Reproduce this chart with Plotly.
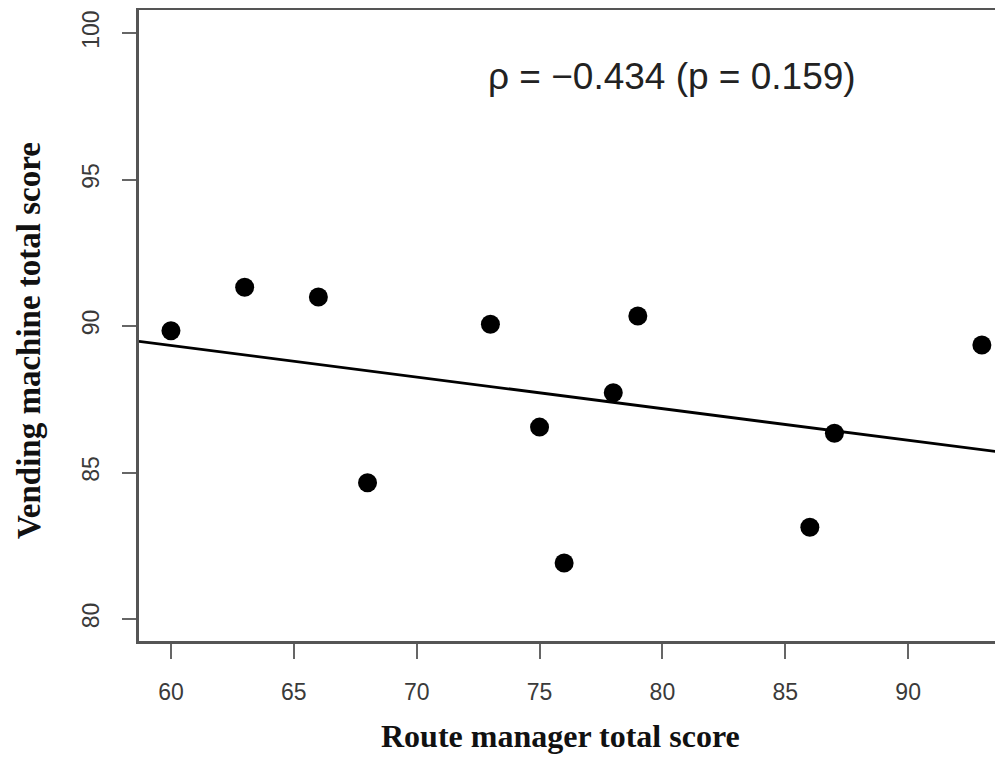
import numpy as np
import plotly.graph_objects as go

# Data
route_manager_score = [60, 63, 66, 68, 73, 75, 76, 78, 79, 86, 87, 93]
vending_machine_score = [89.84, 91.32, 90.99, 84.65, 90.06, 86.55, 81.91, 87.72, 90.34, 83.13, 86.34, 89.35]
x_ticks = [60, 65, 70, 75, 80, 85, 90]
y_ticks = [80, 85, 90, 95, 100]
x_range = [58.70, 93.86]
y_range = [79.25, 100.785]
stat_text = "ρ = −0.434 (p = 0.159)"
x_title = "Route manager total score"
y_title = "Vending machine total score"

# OLS fit line across the full plotting range
slope, intercept = np.polyfit(route_manager_score, vending_machine_score, 1)
fit_x = np.array(x_range)
fit_y = slope * fit_x + intercept

fig = go.Figure()
fig.add_trace(go.Scatter(
    x=fit_x, y=fit_y, mode="lines",
    line=dict(color="black", width=2.8),
    hoverinfo="skip", showlegend=False,
))
fig.add_trace(go.Scatter(
    x=route_manager_score, y=vending_machine_score, mode="markers",
    marker=dict(color="black", size=19, line=dict(width=0)),
    showlegend=False,
))

tick_font = dict(family="Liberation Sans, Arial, sans-serif", size=23, color="#3a3a3a")
title_font_family = "Liberation Serif, Times New Roman, serif"

# page body has an 8px margin; figure sized so the plot lands where the reference has it
W, H = 995, 752
L, T, B = 131, 2, 119
plot_w = W - L
plot_h = H - T - B

fig.update_layout(
    width=W, height=H,
    margin=dict(l=L, r=0, t=T, b=B),
    paper_bgcolor="white", plot_bgcolor="white",
    xaxis=dict(
        range=x_range, tickvals=x_ticks, ticktext=[str(v) for v in x_ticks],
        showgrid=False, zeroline=False,
        showline=True, linecolor="#555555", linewidth=2.5, mirror=True,
        ticks="outside", ticklen=15, tickwidth=2, tickcolor="#666666",
        tickfont=tick_font, ticklabelstandoff=14,
    ),
    yaxis=dict(
        range=y_range, tickvals=y_ticks, ticktext=[str(v) for v in y_ticks],
        showgrid=False, zeroline=False,
        showline=True, linecolor="#555555", linewidth=2.5, mirror=False,
        ticks="outside", ticklen=14, tickwidth=2, tickcolor="#666666",
        tickfont=tick_font, tickangle=-90, ticklabelstandoff=14,
    ),
    annotations=[
        dict(x=80.39, y=98.50, xref="x", yref="y", text=stat_text, showarrow=False,
             font=dict(family="Liberation Sans, Arial, sans-serif", size=37, color="#222222"),
             xanchor="center", yanchor="middle"),
        dict(x=(560 - 139) / plot_w, y=-(736 - 641) / plot_h, xref="paper", yref="paper",
             text=f"<b>{x_title}</b>", showarrow=False,
             font=dict(family=title_font_family, size=32, color="#111111"),
             xanchor="center", yanchor="middle"),
        dict(x=-(139 - 29) / plot_w, y=(641 - 341) / plot_h, xref="paper", yref="paper",
             text=f"<b>{y_title}</b>", showarrow=False, textangle=-90,
             font=dict(family=title_font_family, size=33, color="#111111"),
             xanchor="center", yanchor="middle"),
    ],
)

fig.write_html("out.html")
